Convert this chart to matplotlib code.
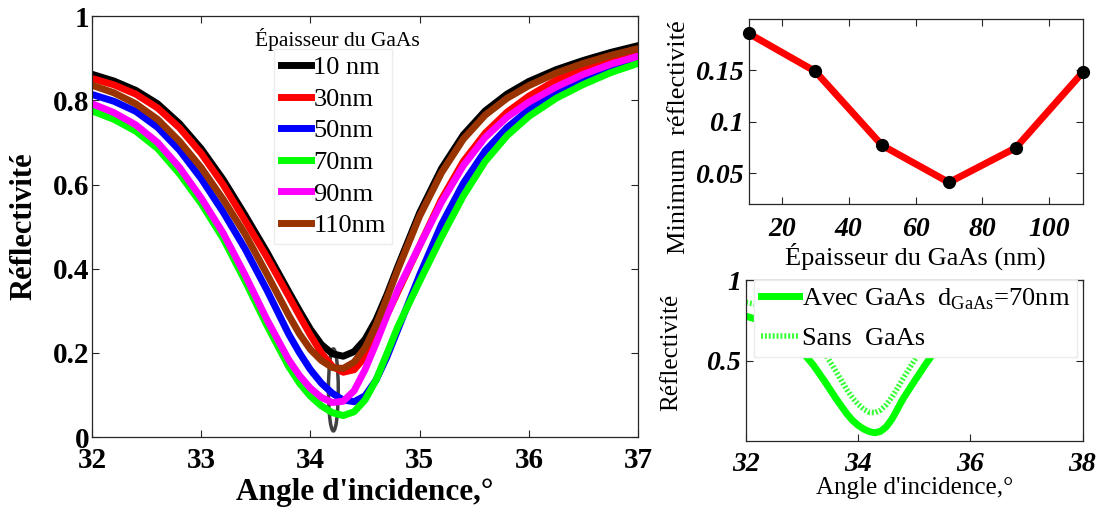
import numpy as np
import matplotlib.pyplot as plt
from matplotlib.patches import Ellipse

plt.rcParams['font.family'] = ['Liberation Serif', 'DejaVu Serif']
plt.rcParams['mathtext.fontset'] = 'custom'
plt.rcParams['mathtext.rm'] = 'Liberation Serif'

# angle d'incidence (deg) commun a toutes les courbes
angle = [32, 32.2, 32.4, 32.6, 32.8, 33, 33.2, 33.4, 33.6, 33.8, 33.9, 34, 34.1, 34.2, 34.3,
         34.4, 34.5, 34.6, 34.7, 34.8, 35, 35.2, 35.4, 35.6, 35.8, 36, 36.25, 36.5, 36.75, 37]

R_10nm = [0.862, 0.846, 0.824, 0.792, 0.745, 0.685, 0.612, 0.528, 0.440, 0.346, 0.300,
          0.256, 0.220, 0.198, 0.192, 0.203, 0.232, 0.278, 0.338, 0.405, 0.533, 0.638,
          0.718, 0.775, 0.815, 0.845, 0.873, 0.895, 0.914, 0.930]
R_30nm = [0.852, 0.837, 0.815, 0.782, 0.735, 0.674, 0.600, 0.515, 0.428, 0.335, 0.288,
          0.242, 0.200, 0.168, 0.154, 0.160, 0.190, 0.235, 0.290, 0.345, 0.455, 0.565,
          0.655, 0.722, 0.772, 0.810, 0.848, 0.876, 0.898, 0.915]
R_50nm = [0.814, 0.798, 0.774, 0.736, 0.682, 0.614, 0.535, 0.448, 0.350, 0.245, 0.200,
          0.160, 0.128, 0.104, 0.088, 0.084, 0.098, 0.135, 0.190, 0.255, 0.385, 0.505,
          0.603, 0.680, 0.735, 0.778, 0.818, 0.850, 0.876, 0.897]
R_70nm = [0.775, 0.755, 0.727, 0.686, 0.626, 0.555, 0.472, 0.372, 0.266, 0.168, 0.128,
          0.097, 0.074, 0.058, 0.051, 0.060, 0.088, 0.135, 0.198, 0.262, 0.370, 0.475,
          0.573, 0.655, 0.716, 0.762, 0.805, 0.838, 0.866, 0.888]
R_90nm = [0.792, 0.771, 0.742, 0.700, 0.641, 0.568, 0.485, 0.386, 0.280, 0.184, 0.146,
          0.116, 0.094, 0.082, 0.085, 0.110, 0.160, 0.222, 0.288, 0.350, 0.455, 0.558,
          0.645, 0.712, 0.760, 0.796, 0.832, 0.862, 0.886, 0.905]
R_110nm = [0.836, 0.818, 0.792, 0.755, 0.703, 0.640, 0.565, 0.483, 0.388, 0.290, 0.245,
           0.208, 0.182, 0.165, 0.163, 0.178, 0.212, 0.265, 0.330, 0.398, 0.525, 0.628,
           0.708, 0.765, 0.805, 0.835, 0.865, 0.888, 0.907, 0.923]
R_sans = [0.860, 0.848, 0.831, 0.806, 0.770, 0.720, 0.645, 0.548, 0.435, 0.318, 0.268,
          0.228, 0.197, 0.178, 0.176, 0.192, 0.225, 0.272, 0.328, 0.388, 0.500, 0.600,
          0.682, 0.745, 0.792, 0.828, 0.862, 0.888, 0.906, 0.920]

courbes = [R_10nm, R_30nm, R_50nm, R_70nm, R_90nm, R_110nm]
noms = ['10 nm', '30nm', '50nm', '70nm', '90nm', '110nm']
couleurs = ['#000000', '#ff0000', '#0000ff', '#00ff00', '#ff00ff', '#993300']

# minimum de reflectivite en fonction de l'epaisseur
epaisseur = [10, 30, 50, 70, 90, 110]
R_min = [0.186, 0.149, 0.077, 0.041, 0.0747, 0.148]

ticks_main_x = [32, 33, 34, 35, 36, 37]
ticks_main_y = [0, 0.2, 0.4, 0.6, 0.8, 1]
labels_main_y = ['0', '0.2', '0.4', '0.6', '0.8', '1']
ticks_min_x = [20, 40, 60, 80, 100]
ticks_min_y = [0.05, 0.1, 0.15]
labels_min_y = ['0.05', '0.1', '0.15']
ticks_ins_x = [32, 34, 36, 38]
ticks_ins_y = [0.5, 1]
labels_ins_y = ['0.5', '1']

fig = plt.figure(figsize=(10.98, 5.07), dpi=100)
ax = fig.add_axes([0.0838, 0.138, 0.4973, 0.830])
ax2 = fig.add_axes([0.6817, 0.5976, 0.3043, 0.365])
ax3 = fig.add_axes([0.6794, 0.1302, 0.3065, 0.3175])

gris = '#262626'
for a in (ax, ax2, ax3):
    a.tick_params(direction='in', top=True, right=True, color=gris, length=5)
    for s in a.spines.values():
        s.set_color(gris)
        s.set_linewidth(0.9)

# --- courbes principales
for R, nom, c in zip(courbes, noms, couleurs):
    ax.plot(angle, R, color=c, lw=5, label=nom)
ax.add_patch(Ellipse((34.21, 0.112), 0.09, 0.195, fill=False, ec='#404040', lw=2.5))
ax.set_xlim(32, 37)
ax.set_ylim(0, 1)
ax.set_xticks(ticks_main_x)
ax.set_xticklabels([str(t) for t in ticks_main_x], fontsize=21, fontweight='bold')
ax.set_yticks(ticks_main_y)
ax.set_yticklabels(labels_main_y, fontsize=21, fontweight='bold')
ax.tick_params(axis='x', pad=7)
ax.tick_params(axis='y', pad=2)
ax.set_xlabel("Angle d'incidence,°", fontsize=22.5, fontweight='bold', labelpad=3)
ax.set_ylabel('Réflectivité', fontsize=22, fontweight='bold', labelpad=10)
leg = ax.legend(loc='upper left', bbox_to_anchor=(0.334, 0.922), fontsize=19,
                handlelength=1.15, handletextpad=0.08, labelspacing=0.31,
                borderpad=0.25, borderaxespad=0, fancybox=False, framealpha=1)
leg.get_frame().set_edgecolor('#ececec')
for l in leg.get_lines():
    l.set_linewidth(5)
ax.text(0.449, 0.945, 'Épaisseur du GaAs', transform=ax.transAxes,
        fontsize=15.5, ha='center', va='center')

# --- minimum de reflectivite
ax2.plot(epaisseur, R_min, color='#ff0000', lw=5, marker='o',
         ms=8.5, mfc='black', mec='black', clip_on=False, zorder=3)
ax2.set_xlim(10, 110)
ax2.set_ylim(0.02, 0.2)
ax2.set_xticks(ticks_min_x)
ax2.set_xticklabels([str(t) for t in ticks_min_x], fontsize=20,
                    fontstyle='italic', fontweight='bold')
ax2.set_yticks(ticks_min_y)
ax2.set_yticklabels(labels_min_y, fontsize=20, fontstyle='italic', fontweight='bold')
ax2.tick_params(axis='x', pad=9)
ax2.set_xlabel('Épaisseur du GaAs (nm)', fontsize=19, labelpad=1)
ax2.set_ylabel('Minimum  réflectivité', fontsize=19)
ax2.yaxis.set_label_coords(-0.175, 0.36)

# --- avec / sans GaAs
ax3.plot(angle, R_70nm, color='#00ff00', lw=5, label=r'Avec GaAs  d$_{\rm GaAs}$=70nm')
ax3.plot(angle, R_sans, color='#33ff33', lw=4, ls=(0, (0.35, 0.35)), label='Sans  GaAs')
ax3.set_xlim(32, 38)
ax3.set_ylim(0, 1)
ax3.set_xticks(ticks_ins_x)
ax3.set_xticklabels([str(t) for t in ticks_ins_x], fontsize=20,
                    fontstyle='italic', fontweight='bold')
ax3.set_yticks(ticks_ins_y)
ax3.set_yticklabels(labels_ins_y, fontsize=20, fontstyle='italic', fontweight='bold')
ax3.tick_params(axis='x', pad=8)
ax3.set_xlabel("Angle d'incidence,°", fontsize=18, labelpad=0)
ax3.set_ylabel('Réflectivité', fontsize=18)
ax3.yaxis.set_label_coords(-0.19, 0.55)
leg3 = ax3.legend(loc='upper left', bbox_to_anchor=(0.024, 1.0), fontsize=19,
                  handlelength=1.45, handletextpad=0.1, labelspacing=0.55,
                  borderpad=0.25, borderaxespad=0, fancybox=False, framealpha=1)
leg3.get_frame().set_edgecolor('#ececec')

fig.savefig('out.png', dpi=100)
